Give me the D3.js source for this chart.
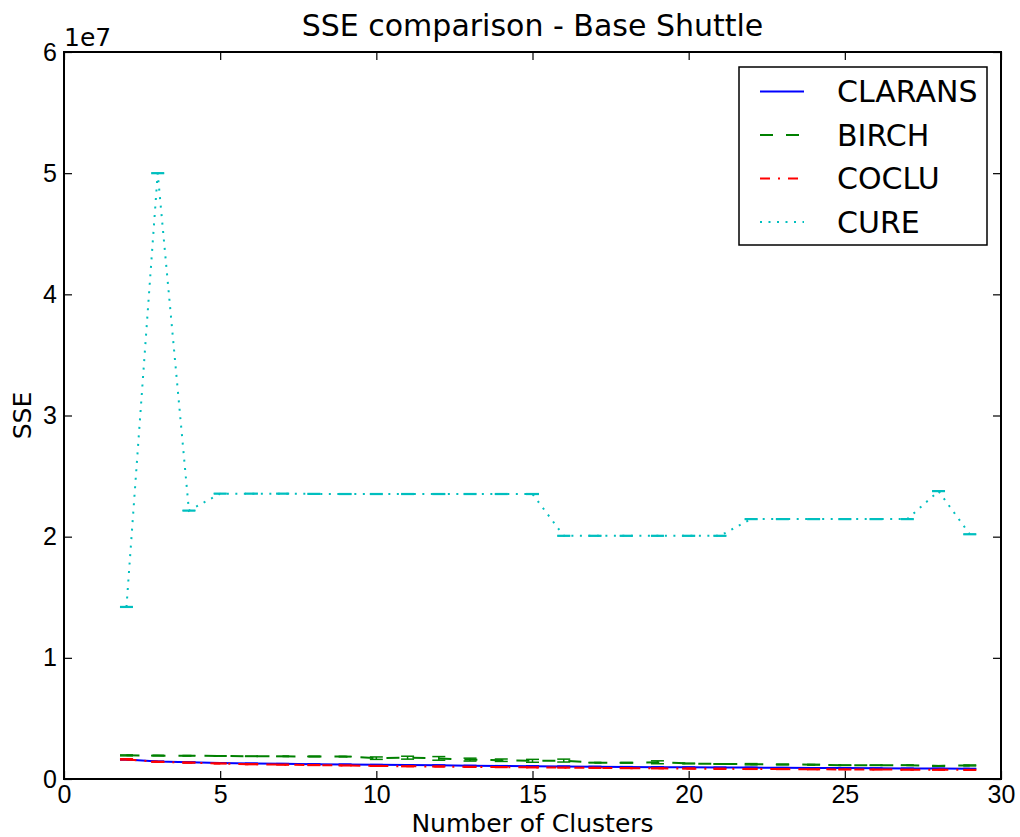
<!DOCTYPE html>
<html>
<head>
<meta charset="utf-8">
<script src="https://cdn.jsdelivr.net/npm/d3@7"></script>
<style>
	body { margin: 0; background: #fff; }
	svg { display: block; font-family: "DejaVu Sans", sans-serif; }
	.tick line { stroke: #000; stroke-width: 1.2; }
	.tick text { fill: #000; font-size: 25px; }
</style>
</head>
<body>
<svg id="chart" width="1020" height="837"></svg>
<script>
//------------------------------------------------------------------------------
// Data (SSE per number of clusters)

var clusters = d3.range(2, 30);

var clarans = [1.60e6, 1.45e6, 1.38e6, 1.32e6, 1.28e6, 1.25e6, 1.22e6, 1.20e6, 1.17e6,
	1.15e6, 1.13e6, 1.10e6, 1.08e6, 1.06e6, 1.04e6, 1.02e6, 1.00e6, 0.98e6, 0.96e6,
	0.95e6, 0.94e6, 0.92e6, 0.91e6, 0.90e6, 0.88e6, 0.87e6, 0.86e6, 0.85e6];
var claransErr = [0.03e6, 0.02e6, 0.02e6, 0.02e6, 0.02e6, 0.02e6, 0.02e6, 0.02e6, 0.02e6,
	0.02e6, 0.02e6, 0.02e6, 0.02e6, 0.02e6, 0.02e6, 0.02e6, 0.02e6, 0.02e6, 0.02e6,
	0.02e6, 0.02e6, 0.02e6, 0.02e6, 0.02e6, 0.02e6, 0.02e6, 0.02e6, 0.02e6];

var birch = [1.95e6, 1.93e6, 1.92e6, 1.90e6, 1.88e6, 1.87e6, 1.86e6, 1.85e6, 1.72e6,
	1.76e6, 1.70e6, 1.60e6, 1.55e6, 1.50e6, 1.52e6, 1.35e6, 1.34e6, 1.38e6, 1.28e6,
	1.24e6, 1.22e6, 1.20e6, 1.18e6, 1.14e6, 1.14e6, 1.14e6, 1.08e6, 1.12e6];
var birchErr = [0.04e6, 0.02e6, 0.02e6, 0.02e6, 0.02e6, 0.02e6, 0.02e6, 0.02e6, 0.10e6,
	0.12e6, 0.15e6, 0.12e6, 0.10e6, 0.12e6, 0.12e6, 0.02e6, 0.02e6, 0.12e6, 0.03e6,
	0.02e6, 0.05e6, 0.02e6, 0.03e6, 0.02e6, 0.02e6, 0.02e6, 0.02e6, 0.04e6];

var coclu = [1.62e6, 1.42e6, 1.35e6, 1.28e6, 1.22e6, 1.18e6, 1.15e6, 1.12e6, 1.08e6,
	1.05e6, 1.03e6, 1.00e6, 0.98e6, 0.96e6, 0.94e6, 0.92e6, 0.90e6, 0.88e6, 0.86e6,
	0.84e6, 0.83e6, 0.82e6, 0.80e6, 0.79e6, 0.78e6, 0.77e6, 0.76e6, 0.75e6];
var cocluErr = [0.05e6, 0.03e6, 0.03e6, 0.03e6, 0.03e6, 0.03e6, 0.03e6, 0.03e6, 0.03e6,
	0.03e6, 0.03e6, 0.03e6, 0.03e6, 0.03e6, 0.03e6, 0.03e6, 0.03e6, 0.03e6, 0.03e6,
	0.03e6, 0.03e6, 0.03e6, 0.03e6, 0.03e6, 0.03e6, 0.03e6, 0.03e6, 0.03e6];

var cure = [1.420e7, 5.000e7, 2.215e7, 2.355e7, 2.355e7, 2.355e7, 2.353e7, 2.352e7, 2.352e7,
	2.352e7, 2.352e7, 2.352e7, 2.352e7, 2.352e7, 2.007e7, 2.007e7, 2.007e7, 2.007e7, 2.007e7,
	2.007e7, 2.145e7, 2.145e7, 2.145e7, 2.145e7, 2.145e7, 2.145e7, 2.376e7, 2.020e7];
var cureErr = clusters.map(function () { return 0.003e7; });

var xTicks = [0, 5, 10, 15, 20, 25, 30];
var yTicks = [0, 1e7, 2e7, 3e7, 4e7, 5e7, 6e7];

var series = [
	{ name: 'CLARANS', values: clarans, errors: claransErr, color: '#0000ff', dash: null },
	{ name: 'BIRCH',   values: birch,   errors: birchErr,   color: '#008000', dash: '13,13' },
	{ name: 'COCLU',   values: coclu,   errors: cocluErr,   color: '#ff0000', dash: '10,8,2,8' },
	{ name: 'CURE',    values: cure,    errors: cureErr,    color: '#00bfbf', dash: '2,6.5' }
];

//------------------------------------------------------------------------------
// Layout

var svg = d3.select('#chart');
var box = { left: 64, right: 1001, top: 52, bottom: 779 };

var x = d3.scaleLinear().domain([0, 30]).range([box.left, box.right]);
var y = d3.scaleLinear().domain([0, 6e7]).range([box.bottom, box.top]);

//------------------------------------------------------------------------------
// Axes (ticks point inward, on all four sides)

svg.append('g')
	.attr('transform', 'translate(0,' + box.bottom + ')')
	.call(d3.axisBottom(x).tickValues(xTicks).tickSizeInner(-8).tickSizeOuter(0).tickPadding(6))
	.call(function (g) { g.select('.domain').remove(); })
;
svg.append('g')
	.attr('transform', 'translate(0,' + box.top + ')')
	.call(d3.axisTop(x).tickValues(xTicks).tickSizeInner(-8).tickSizeOuter(0).tickFormat(''))
	.call(function (g) { g.select('.domain').remove(); })
;
svg.append('g')
	.attr('transform', 'translate(' + box.left + ',0)')
	.call(d3.axisLeft(y).tickValues(yTicks).tickSizeInner(-8).tickSizeOuter(0).tickPadding(7)
		.tickFormat(function (d) { return d / 1e7; }))
	.call(function (g) { g.select('.domain').remove(); })
;
svg.append('g')
	.attr('transform', 'translate(' + box.right + ',0)')
	.call(d3.axisRight(y).tickValues(yTicks).tickSizeInner(-8).tickSizeOuter(0).tickFormat(''))
	.call(function (g) { g.select('.domain').remove(); })
;

svg.selectAll('.tick text').attr('font-family', null).attr('font-size', null);

//------------------------------------------------------------------------------
// Series with error bars

var line = d3.line()
	.x(function (d) { return x(d.k); })
	.y(function (d) { return y(d.v); });

series.forEach(function (s) {
	var pts = clusters.map(function (k, i) { return { k: k, v: s.values[i], e: s.errors[i] }; });
	var g = svg.append('g').attr('class', 'series');

	g.append('path')
		.datum(pts)
		.attr('d', line)
		.attr('fill', 'none')
		.attr('stroke', s.color)
		.attr('stroke-width', 2)
		.attr('stroke-dasharray', s.dash)
	;

	var bars = g.selectAll('.err').data(pts).enter().append('g').attr('class', 'err')
		.attr('stroke', s.color).attr('stroke-width', 1.5);
	bars.append('line')
		.attr('x1', function (d) { return x(d.k); })
		.attr('x2', function (d) { return x(d.k); })
		.attr('y1', function (d) { return y(d.v - d.e); })
		.attr('y2', function (d) { return y(d.v + d.e); });
	[-1, 1].forEach(function (sgn) {
		bars.append('line')
			.attr('x1', function (d) { return x(d.k) - 6.5; })
			.attr('x2', function (d) { return x(d.k) + 6.5; })
			.attr('y1', function (d) { return y(d.v + sgn * d.e); })
			.attr('y2', function (d) { return y(d.v + sgn * d.e); });
	});
});

//------------------------------------------------------------------------------
// Frame, titles

svg.append('rect')
	.attr('x', box.left).attr('y', box.top)
	.attr('width', box.right - box.left).attr('height', box.bottom - box.top)
	.attr('fill', 'none').attr('stroke', '#000').attr('stroke-width', 2);

svg.append('text')
	.attr('x', (box.left + box.right) / 2).attr('y', 36)
	.attr('text-anchor', 'middle').attr('font-size', 30)
	.text('SSE comparison - Base Shuttle');

svg.append('text')
	.attr('x', box.left).attr('y', 46)
	.attr('font-size', 25)
	.text('1e7');

svg.append('text')
	.attr('x', (box.left + box.right) / 2).attr('y', 832)
	.attr('text-anchor', 'middle').attr('font-size', 25)
	.text('Number of Clusters');

svg.append('text')
	.attr('transform', 'translate(31,' + (box.top + box.bottom) / 2 + ') rotate(-90)')
	.attr('text-anchor', 'middle').attr('font-size', 25)
	.text('SSE');

//------------------------------------------------------------------------------
// Legend

var legend = svg.append('g').attr('class', 'legend');
legend.append('rect')
	.attr('x', 739).attr('y', 67).attr('width', 248).attr('height', 178)
	.attr('fill', '#fff').attr('stroke', '#000').attr('stroke-width', 1.5);

var rows = legend.selectAll('.row').data(series).enter().append('g')
	.attr('transform', function (d, i) { return 'translate(0,' + (91.5 + i * 43.5) + ')'; });
rows.append('line')
	.attr('x1', 760).attr('x2', 804)
	.attr('stroke', function (d) { return d.color; })
	.attr('stroke-width', 2)
	.attr('stroke-dasharray', function (d) { return d.dash; });
rows.append('text')
	.attr('x', 837).attr('dy', '0.36em').attr('font-size', 30)
	.text(function (d) { return d.name; });
</script>
</body>
</html>
